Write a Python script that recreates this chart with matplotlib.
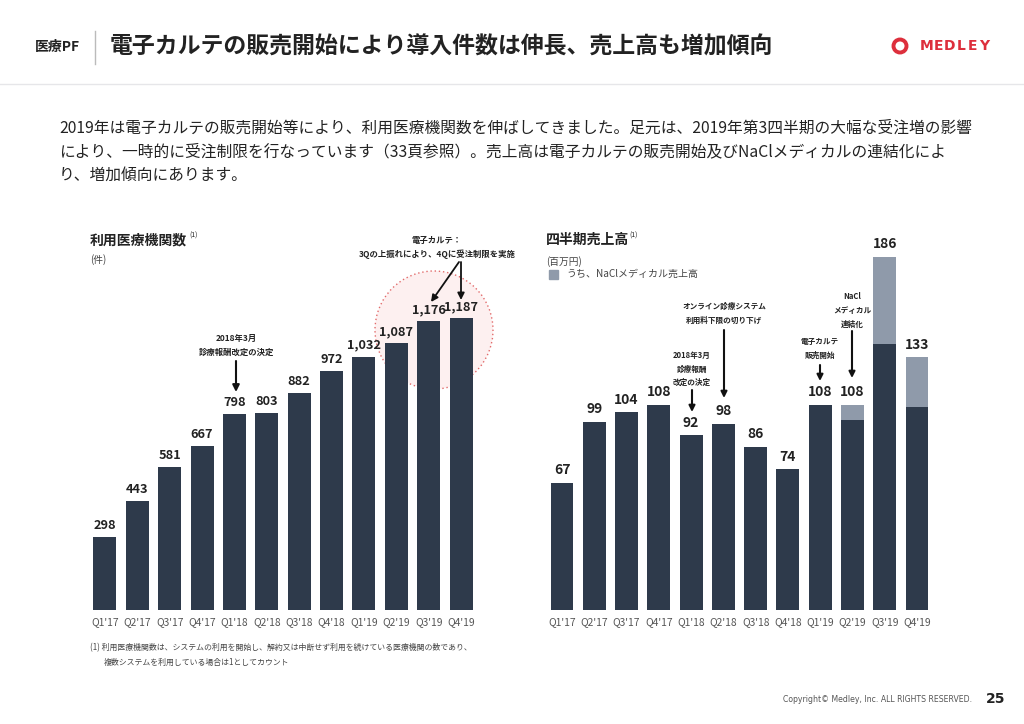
import matplotlib
matplotlib.use("Agg")
import matplotlib.pyplot as plt
from matplotlib.patches import Ellipse, Rectangle, FancyArrowPatch
from matplotlib.lines import Line2D

plt.rcParams['font.family'] = ['Noto Sans CJK JP', 'DejaVu Sans']

quarters = ["Q1'17", "Q2'17", "Q3'17", "Q4'17", "Q1'18", "Q2'18", "Q3'18", "Q4'18",
            "Q1'19", "Q2'19", "Q3'19", "Q4'19"]
institutions = [298, 443, 581, 667, 798, 803, 882, 972, 1032, 1087, 1176, 1187]
sales_total = [67, 99, 104, 108, 92, 98, 86, 74, 108, 108, 186, 133]
sales_nacl = [0, 0, 0, 0, 0, 0, 0, 0, 0, 8, 46, 26]
sales_core = [t - n for t, n in zip(sales_total, sales_nacl)]

DARK = '#2e3a4b'
GRAY = '#8f9aaa'
RED = '#dd2f3c'
W, H = 1024, 724

fig = plt.figure(figsize=(W / 100, H / 100), dpi=100)


def fx(x):
    return x / W


def fy(y):
    return 1 - y / H


def ftext(x, y, s, **kw):
    fig.text(fx(x), fy(y), s, **kw)


def arrow(x0, y0, x1, y1, lw=1.5, ms=10):
    fig.add_artist(FancyArrowPatch((fx(x0), fy(y0)), (fx(x1), fy(y1)),
                   transform=fig.transFigure, arrowstyle='-|>', mutation_scale=ms,
                   color='#111', lw=lw, shrinkA=0, shrinkB=0))


# Header
ftext(35, 47, "医療PF", fontsize=10, fontweight='bold', va='center', color='#222')
fig.add_artist(Line2D([fx(95), fx(95)], [fy(31), fy(64)], color='#bbbbbb', lw=1))
ftext(110, 47, "電子カルテの販売開始により導入件数は伸長、売上高も増加傾向",
      fontsize=16.5, fontweight='bold', va='center', color='#222')
fig.add_artist(Ellipse((fx(900), fy(46)), 13 / W, 13 / H, transform=fig.transFigure,
                       fill=False, ec=RED, lw=2.8))
for i, ch in enumerate("MEDLEY"):
    ftext(926.5 + i * 11.6, 46, ch, fontsize=10, fontweight='bold', ha='center',
          va='center', color=RED, family=['DejaVu Sans'])
fig.add_artist(Line2D([0, 1], [fy(84), fy(84)], color='#e6e6e9', lw=1))

body = ["2019年は電子カルテの販売開始等により、利用医療機関数を伸ばしてきました。足元は、2019年第3四半期の大幅な受注増の影響",
        "により、一時的に受注制限を行なっています（33頁参照）。売上高は電子カルテの販売開始及びNaClメディカルの連結化によ",
        "り、増加傾向にあります。"]
for i, line in enumerate(body):
    ftext(59, 128 + i * 23.5, line, fontsize=11.3, va='center', color='#222')

# Highlight circle (behind bars)
fig.add_artist(Ellipse((fx(434), fy(330)), 118 / W, 118 / H, transform=fig.transFigure,
                       fc='#fdf0f0', ec='#e26a6a', lw=1.0, ls=(0, (1, 2)), zorder=-1))

# Left chart
axL = fig.add_axes([fx(88.8), fy(610), fx(477.2 - 88.8), (610 - 260) / H])
xs = list(range(len(quarters)))
axL.bar(xs, institutions, width=0.71, color=DARK, zorder=3)
axL.set_xlim(-0.5, 11.5)
axL.set_ylim(0, (610 - 260) / 0.2456)
for x, v in zip(xs, institutions):
    axL.text(x, v + 20, f"{v:,}", ha='center', va='bottom', fontsize=9.2,
             fontweight='bold', color='#222', zorder=5)
axL.set_xticks(xs)
axL.set_xticklabels(quarters, fontsize=7.4, color='#555')
axL.tick_params(axis='x', length=0, pad=5)
axL.set_yticks([])
for s in axL.spines.values():
    s.set_visible(False)
axL.patch.set_alpha(0)

ftext(90, 240, "利用医療機関数", fontsize=10, fontweight='bold', va='center', color='#222')
ftext(189, 236, "(1)", fontsize=5, va='center', color='#222')
ftext(90, 260, "(件)", fontsize=7, va='center', color='#444')

ftext(236, 338, "2018年3月", fontsize=6, fontweight='bold', ha='center', va='center', color='#222')
ftext(236, 352, "診療報酬改定の決定", fontsize=6, fontweight='bold', ha='center', va='center', color='#222')
arrow(236, 361, 236, 392)

ftext(437, 240, "電子カルテ：", fontsize=6, fontweight='bold', ha='center', va='center', color='#222')
ftext(437, 254, "3Qの上振れにより、4Qに受注制限を実施", fontsize=6, fontweight='bold',
      ha='center', va='center', color='#222')
arrow(459, 262, 431, 302, lw=1.3)
arrow(461, 262, 461, 300, lw=1.3)

# Right chart
axR = fig.add_axes([fx(545.9), fy(610), fx(933.1 - 545.9), (610 - 240) / H])
axR.bar(xs, sales_core, width=0.71, color=DARK, zorder=3)
axR.bar(xs, sales_nacl, bottom=sales_core, width=0.71, color=GRAY, zorder=3)
axR.set_xlim(-0.5, 11.5)
axR.set_ylim(0, (610 - 240) / 1.9)
for x, v in zip(xs, sales_total):
    axR.text(x, v + 3, f"{v}", ha='center', va='bottom', fontsize=10,
             fontweight='bold', color='#222', zorder=5)
axR.set_xticks(xs)
axR.set_xticklabels(quarters, fontsize=7.4, color='#555')
axR.tick_params(axis='x', length=0, pad=5)
axR.set_yticks([])
for s in axR.spines.values():
    s.set_visible(False)
axR.patch.set_alpha(0)

ftext(546, 240, "四半期売上高", fontsize=10, fontweight='bold', va='center', color='#222')
ftext(629, 236, "(1)", fontsize=5, va='center', color='#222')
ftext(546, 262, "(百万円)", fontsize=7, va='center', color='#444')
fig.add_artist(Rectangle((fx(549), fy(279)), 9 / W, 9 / H, transform=fig.transFigure,
                         color=GRAY))
ftext(566, 274, "うち、NaClメディカル売上高", fontsize=7.2, va='center', color='#444')


def ann(x, ys, lines, y0, y1):
    for yy, s in zip(ys, lines):
        ftext(x, yy, s, fontsize=5.5, fontweight='bold', ha='center', va='center', color='#222')
    arrow(x, y0, x, y1, ms=9)


ann(724, [306, 320], ["オンライン診療システム", "利用料下限の切り下げ"], 330, 398)
ann(692, [355, 369, 382], ["2018年3月", "診療報酬", "改定の決定"], 390, 412)
ann(820, [342, 355], ["電子カルテ", "販売開始"], 365, 381)
ann(852, [297, 311, 324], ["NaCl", "メディカル", "連結化"], 331, 378)

# Footnote
ftext(90, 648, "(1) 利用医療機関数は、システムの利用を開始し、解約又は中断せず利用を続けている医療機関の数であり、",
      fontsize=5.7, va='center', color='#444')
ftext(104, 662, "複数システムを利用している場合は1としてカウント", fontsize=5.7, va='center', color='#444')

ftext(783, 700, "Copyright© Medley, Inc. ALL RIGHTS RESERVED.", fontsize=5.6, va='center',
      color='#555', family=['DejaVu Sans'])
ftext(986, 699, "25", fontsize=10, fontweight='bold', va='center', color='#222',
      family=['DejaVu Sans'])

fig.savefig("out.png", dpi=100, facecolor='white')
